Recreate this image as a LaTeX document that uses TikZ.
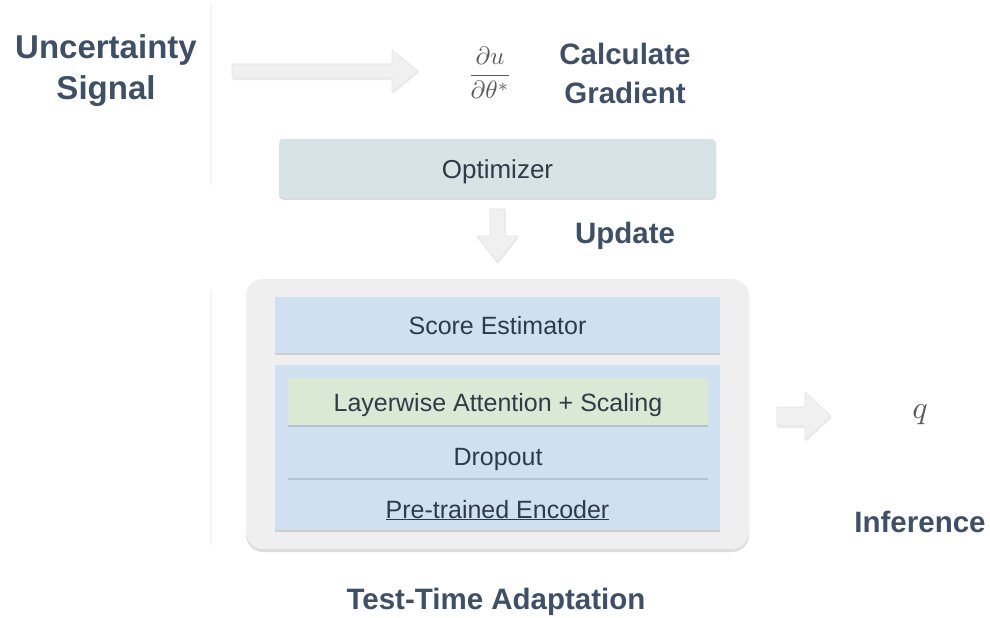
\documentclass[tikz,border=0pt]{standalone}
\usepackage{fontspec}
\setmainfont{Liberation Sans}
\usepackage{graphicx}
\usetikzlibrary{shadows}
\definecolor{titlec}{RGB}{62,80,104}
\definecolor{boxtext}{RGB}{46,60,74}
\definecolor{arrowfill}{RGB}{240,240,240}
\definecolor{arrowedge}{RGB}{228,228,228}
\definecolor{optfill}{RGB}{214,228,229}
\definecolor{outerfill}{RGB}{239,239,239}
\definecolor{bluefill}{RGB}{207,224,241}
\definecolor{greenfill}{RGB}{218,233,212}
\definecolor{mathgray}{RGB}{90,90,90}
\definecolor{faintline}{RGB}{243,243,243}
\begin{document}
\begin{tikzpicture}[x=1pt,y=-1pt,
  title/.style={font=\bfseries\fontsize{29.5}{34}\selectfont, text=titlec, align=center, inner sep=0pt},
  boxlabel/.style={font=\fontsize{25}{30}\selectfont, text=boxtext, inner sep=0pt, anchor=base},
  shad/.style={drop shadow={shadow xshift=0pt, shadow yshift=-1.8pt, opacity=0.2, fill=black!70}},
  blockarrow/.style={fill=arrowfill, draw=arrowedge, line width=0.6pt, line join=round,
     drop shadow={shadow xshift=0.5pt, shadow yshift=-2pt, opacity=0.15}},
]
\useasboundingbox (0,0) rectangle (990,618);
\fill[white] (0,0) rectangle (990,618);

% faint separator line
\draw[faintline, line width=1.2pt] (211,5) -- (211,185);
\draw[faintline, line width=1.2pt] (211,290) -- (211,545);

% titles
\node[title, font=\bfseries\fontsize{33}{40}\selectfont] (unc) at (106,71) {Uncertainty\\[1pt]Signal};
\node[title] (calc) at (625,73) {Calculate\\[5pt]Gradient};
\node[title] (upd) at (625,236) {Update};
\node[title] (inf) at (920,522) {Inference};
\node[title] (tta) at (496,602) {Test-Time Adaptation};

% gradient
\node[text=mathgray, inner sep=0pt] (grad) at (490,73) {\scalebox{2.5}{$\displaystyle\frac{\partial u}{\partial\theta^{*}}$}};

% big horizontal arrow
\filldraw[blockarrow] (232,64) -- (392,64) -- (392,50) -- (418,71) -- (392,92) -- (392,78) -- (232,78) -- cycle;

% optimizer
\node[shad, fill=optfill, rounded corners=4pt, minimum width=437pt, minimum height=59pt, inner sep=0pt] (opt) at (497.5,168.5) {};
\node[boxlabel, font=\fontsize{26}{30}\selectfont] at (497.5,178) {Optimizer};

% down arrow
\filldraw[blockarrow] (490,209) -- (505,209) -- (505,236) -- (518,236) -- (497.5,262) -- (477,236) -- (490,236) -- cycle;

% outer container
\node[drop shadow={shadow xshift=0pt, shadow yshift=-3pt, opacity=0.22, fill=black!60}, fill=outerfill, rounded corners=17pt, minimum width=503pt, minimum height=270pt, inner sep=0pt] (outer) at (497.5,414) {};

% score estimator
\node[shad, fill=bluefill, minimum width=445pt, minimum height=56pt, inner sep=0pt] (score) at (497.5,325) {};
\node[boxlabel] at (497.5,334) {Score Estimator};

% encoder
\node[shad, fill=bluefill, minimum width=445pt, minimum height=165pt, inner sep=0pt] (enc) at (497.5,447.5) {};
\node[shad, fill=greenfill, minimum width=420pt, minimum height=47pt, inner sep=0pt] (lay) at (498,401.5) {};
\node[boxlabel] at (498,411) {Layerwise Attention + Scaling};
\node[shad, fill=bluefill, minimum width=420pt, minimum height=46pt, inner sep=0pt] (drop) at (498,455) {};
\node[boxlabel] at (498,465) {Dropout};
\node[boxlabel] (pte) at (497.5,518) {\underline{Pre-trained Encoder}};

% right arrow
\filldraw[blockarrow] (777,407) -- (805,407) -- (805,392) -- (831,416) -- (805,440) -- (805,426) -- (777,426) -- cycle;

% q
\node[text=mathgray, inner sep=0pt] (q) at (920,415) {\scalebox{3.2}{$q$}};
\end{tikzpicture}
\end{document}
